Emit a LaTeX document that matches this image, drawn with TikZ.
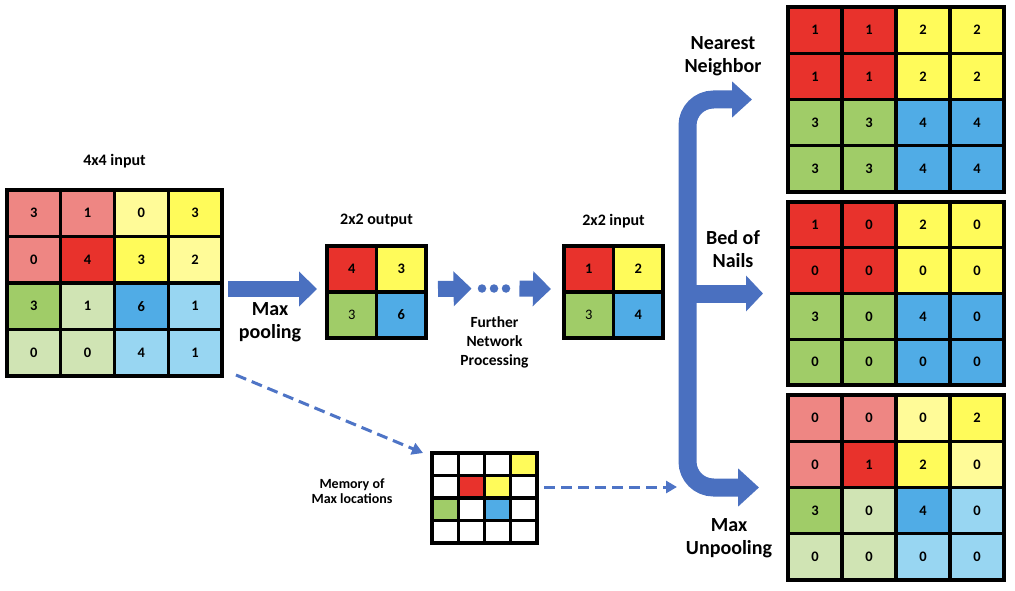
\documentclass[tikz,border=0pt]{standalone}
\usepackage{fontspec}
\setmainfont{Carlito}
\usetikzlibrary{arrows.meta}
\definecolor{lred}{RGB}{238,134,131}
\definecolor{red}{RGB}{232,50,44}
\definecolor{lyel}{RGB}{255,251,152}
\definecolor{yel}{RGB}{255,251,90}
\definecolor{grn}{RGB}{160,204,104}
\definecolor{lgrn}{RGB}{208,228,180}
\definecolor{blu}{RGB}{80,172,230}
\definecolor{lblu}{RGB}{152,214,242}
\definecolor{arrowblue}{RGB}{74,112,192}
\definecolor{dashblue}{RGB}{78,116,198}
\tikzset{
  cell/.style={draw=black, line width=3.2pt, inner sep=0pt, font=\fontsize{14.5}{16}\selectfont\bfseries},
  gridframe/.style={inner sep=0pt, outer sep=0pt},
  lbl/.style={font=\fontsize{16}{19}\selectfont\bfseries, align=center},
  midlbl/.style={font=\fontsize{15.5}{19}\selectfont\bfseries, align=center},
  smalllbl/.style={font=\fontsize{14}{15.5}\selectfont\bfseries, align=center},
  biglbl/.style={font=\fontsize{20}{22.5}\selectfont\bfseries, align=center},
  barrow/.style={draw=arrowblue, line width=16pt, -{Triangle[length=18pt 0 0, width=34pt 0 0]}},
  dotnode/.style={circle, fill=arrowblue, inner sep=0pt, minimum size=8.5pt},
  dasharrow/.style={draw=dashblue, line width=3pt, dash pattern=on 11pt off 6pt, -{Triangle[length=11pt 0 0, width=12pt 0 0]}},
}
\newcommand{\mkgrid}[7]{%
  \foreach \cc/\vv [count=\k from 0] in {#7}{%
    \pgfmathtruncatemacro{\rr}{div(\k,#6)}%
    \pgfmathtruncatemacro{\ccl}{mod(\k,#6)}%
    \node[cell, fill=\cc, minimum width=#4pt, minimum height=#5pt] (#1-\rr-\ccl) at ({#2+(\ccl+0.5)*#4},{#3+(\rr+0.5)*#5}) {\vv};
  }%
}
\begin{document}
\begin{tikzpicture}[x=1pt, y=-1pt]
\useasboundingbox (0,0) rectangle (1015,591);
\fill[white] (0,0) rectangle (1015,591);

% frames (named outlines of the grids)
\node[gridframe, minimum width=215pt, minimum height=186pt] (inp) at (114.5,283) {};
\node[gridframe, minimum width=99pt, minimum height=92pt] (pout) at (376.5,292) {};
\node[gridframe, minimum width=99pt, minimum height=92pt] (pin) at (613.5,292) {};
\node[gridframe, minimum width=105pt, minimum height=90pt] (mem) at (484.5,498) {};
\node[gridframe, minimum width=216pt, minimum height=185pt] (nn) at (896,99.5) {};
\node[gridframe, minimum width=216pt, minimum height=183pt] (bed) at (896,293.5) {};
\node[gridframe, minimum width=216pt, minimum height=185pt] (unp) at (896,487.5) {};

% 4x4 input
\mkgrid{in}{7}{190}{53.75}{46.5}{4}{lred/3,lred/1,lyel/0,yel/3,lred/0,red/4,yel/3,lyel/2,grn/3,lgrn/1,blu/6,lblu/1,lgrn/0,lgrn/0,lblu/4,lblu/1}
% 2x2 output
\mkgrid{po}{327}{246}{49.5}{46}{2}{red/4,yel/3,grn/\mdseries 3,blu/6}
% 2x2 input
\mkgrid{pi}{564}{246}{49.5}{46}{2}{red/1,yel/2,grn/\mdseries 3,blu/4}
% memory
\mkgrid{me}{432}{453}{26.25}{22.5}{4}{white/,white/,white/,yel/,white/,red/,yel/,white/,grn/,white/,blu/,white/,white/,white/,white/,white/}
% nearest neighbor
\mkgrid{nb}{788}{7}{54}{46.25}{4}{red/1,red/1,yel/2,yel/2,red/1,red/1,yel/2,yel/2,grn/3,grn/3,blu/4,blu/4,grn/3,grn/3,blu/4,blu/4}
% bed of nails
\mkgrid{bn}{788}{202}{54}{45.75}{4}{red/1,red/0,yel/2,yel/0,red/0,red/0,yel/0,yel/0,grn/3,grn/0,blu/4,blu/0,grn/0,grn/0,blu/0,blu/0}
% max unpooling
\mkgrid{mu}{788}{395}{54}{46.25}{4}{lred/0,lred/0,lyel/0,yel/2,lred/0,red/1,yel/2,lyel/0,grn/3,lgrn/0,blu/4,lblu/0,lgrn/0,lgrn/0,lblu/0,lblu/0}

% labels
\node[lbl] (inlbl) at (114.5,161) {4x4 input};
\node[lbl] (polbl) at (376.5,221) {2x2 output};
\node[lbl] (pilbl) at (613.5,221) {2x2 input};
\node[biglbl] (mplbl) at (270,322) {Max\\pooling};
\node[midlbl] (fnlbl) at (494.5,342) {Further\\Network\\Processing};
\node[smalllbl] (memlbl) at (352,491) {Memory of\\Max locations};
\node[biglbl] (nnlbl) at (723,56) {Nearest\\Neighbor};
\node[biglbl] (bnlbl) at (733,249) {Bed of\\Nails};
\node[biglbl] (mulbl) at (729,538) {Max\\Unpooling};

% dots
\node[dotnode] (d1) at (482,288.5) {};
\node[dotnode] (d2) at (494,288.5) {};
\node[dotnode] (d3) at (506,288.5) {};

% straight block arrows
\draw[barrow] ([xshift=6pt,yshift=3pt]inp.east |- pout.west) -- ([xshift=-10pt,yshift=3pt]pout.west);
\draw[barrow] ([xshift=12pt,yshift=3pt]pout.east) -- ([xshift=-6pt]d1.west);
\draw[barrow] ([xshift=9pt]d3.east) -- ([xshift=-13pt,yshift=3pt]pin.west);

% branching arrow
\coordinate (nnTip) at ([xshift=-36pt]nn.west);
\coordinate (bedTip) at ([xshift=-25pt]bed.west);
\coordinate (unpTip) at ([xshift=-29pt]unp.west);
\coordinate (tc1) at (687.5,99.5);
\coordinate (tc2) at (687.5,487.5);
\coordinate (tmid) at (687.5,293.5);
\draw[draw=arrowblue, line width=18pt, rounded corners=26pt,
  {Triangle[length=20pt 0 0, width=35pt 0 0]}-{Triangle[length=21pt 0 0, width=37pt 0 0]}]
  (nnTip) -- (tc1) -- (tc2) -- (unpTip);
\draw[draw=arrowblue, line width=18pt, -{Triangle[length=17pt 0 0, width=35pt 0 0]}] (tmid) -- (bedTip);

% dashed arrows
\coordinate (trunkL) at (677,487);
\draw[dasharrow] ([xshift=14pt,yshift=1pt]inp.south east) -- ([xshift=-9pt]mem.north west);
\draw[dasharrow] ([xshift=7pt,yshift=11pt]mem.east) -- (trunkL);
\end{tikzpicture}
\end{document}
